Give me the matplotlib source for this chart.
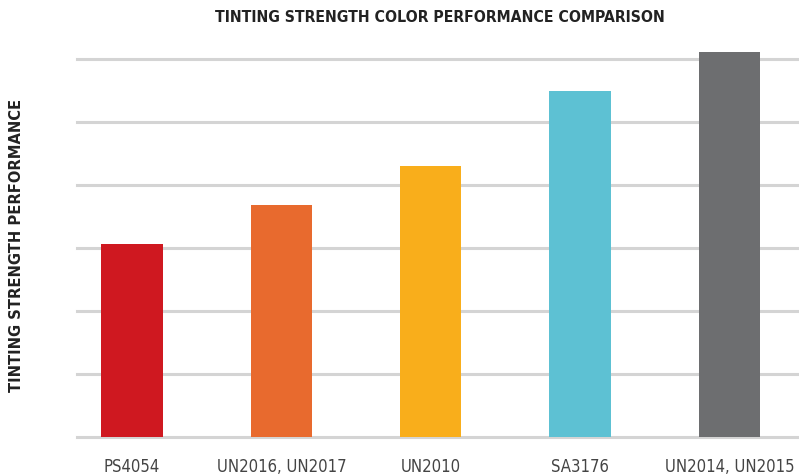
import matplotlib.pyplot as plt

# Chart data
categories = ['PS4054', 'UN2016, UN2017', 'UN2010', 'SA3176', 'UN2014, UN2015']
values = [3.06, 3.68, 4.30, 5.49, 6.11]
colors = ['#CF1820', '#E86A2E', '#F9AE1B', '#5DC1D3', '#6D6E70']
grid_levels = [0, 1, 2, 3, 4, 5, 6]

W, H = 799, 476
fig = plt.figure(figsize=(W / 100, H / 100), dpi=100)

# axes placed in pixel terms
left, right, bottom = 77, 799, 437
top = 30
ax = fig.add_axes([left / W, 1 - bottom / H, (right - left) / W, (bottom - top) / H])

x = list(range(len(categories)))
ax.bar(x, values, width=0.41, color=colors, zorder=3)

for g in grid_levels:
    ax.axhline(g, color='#D4D4D4', linewidth=2.2, zorder=1, clip_on=False)

ax.set_xlim(-0.369, 4.466)
ax.set_ylim(0, (bottom - top) / 63)
ax.set_yticks([])
ax.set_xticks(x)
ax.set_xticklabels(categories, fontsize=12, color='#444444',
                   family='DejaVu Sans', stretch='condensed')
ax.tick_params(axis='x', length=0, pad=15)
for s in ax.spines.values():
    s.set_visible(False)

fig.text(440 / W, 1 - 17 / H, 'TINTING STRENGTH COLOR PERFORMANCE COMPARISON',
         ha='center', va='center', fontsize=11.3, fontweight='bold', color='#222222',
         family='DejaVu Sans', stretch='condensed')
fig.text(17 / W, 1 - 245 / H, 'TINTING STRENGTH PERFORMANCE', rotation=90,
         ha='center', va='center', fontsize=11.8, fontweight='bold', color='#222222',
         family='DejaVu Sans', stretch='condensed')

plt.savefig('out.png', dpi=100)
